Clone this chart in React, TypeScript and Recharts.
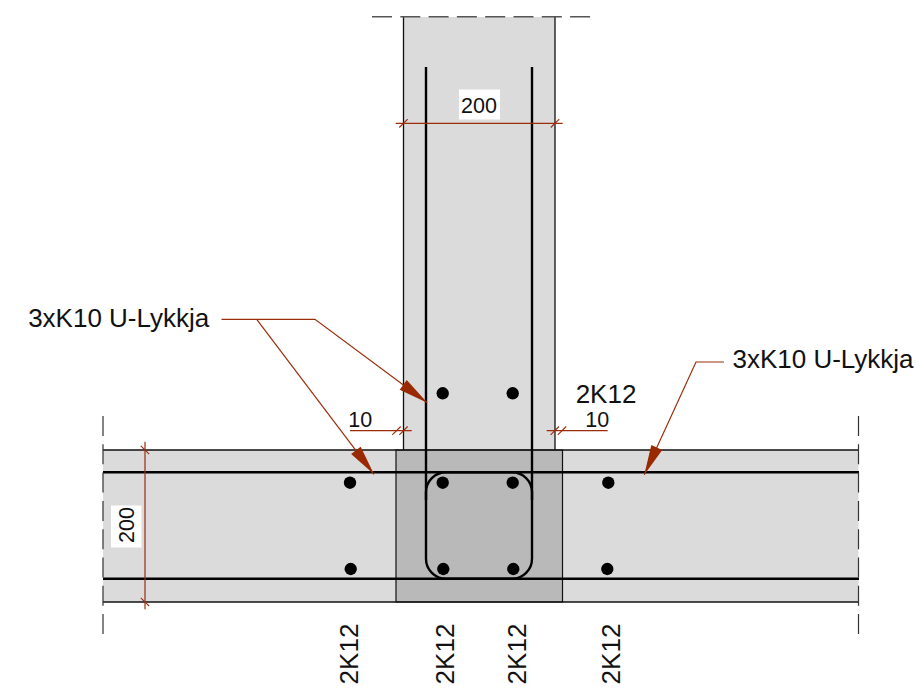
import React from 'react';
import {
  ComposedChart,
  XAxis,
  YAxis,
  ZAxis,
  Line,
  Scatter,
  ReferenceArea,
} from 'recharts';

type Pt = { x: number; y: number };

const lightAreas = [
  { x1: 403.5, x2: 555, y1: 17, y2: 450 },
  { x1: 103, x2: 858.5, y1: 450, y2: 602 },
];
const jointArea = { x1: 396, x2: 562.5, y1: 450, y2: 602 };
const stirrup = { x1: 426, x2: 532, y1: 472.3, y2: 578.7 };
const labelBoxes = [
  { x1: 459, x2: 500, y1: 89.5, y2: 119.5 },
  { x1: 111, x2: 141.5, y1: 505.5, y2: 547.5 },
];

const outlines: Pt[][] = [
  [{ x: 403.5, y: 17 }, { x: 403.5, y: 450 }],
  [{ x: 555, y: 17 }, { x: 555, y: 450 }],
  [{ x: 103, y: 450 }, { x: 858.5, y: 450 }],
  [{ x: 103, y: 602 }, { x: 858.5, y: 602 }],
];
const rebars: Pt[][] = [
  [{ x: 426, y: 67 }, { x: 426, y: 500 }],
  [{ x: 532, y: 67 }, { x: 532, y: 500 }],
  [{ x: 103, y: 472.3 }, { x: 859, y: 472.3 }],
  [{ x: 103, y: 578.7 }, { x: 859, y: 578.7 }],
];
const breakLines: Pt[][] = [
  [{ x: 103, y: 416 }, { x: 103, y: 634 }],
  [{ x: 858.5, y: 416 }, { x: 858.5, y: 634 }],
];
const topBreak: Pt[] = [{ x: 372, y: 16.7 }, { x: 591, y: 16.7 }];

const leaders: Pt[][] = [
  [{ x: 221.5, y: 319.3 }, { x: 315, y: 319.3 }, { x: 427.3, y: 402.7 }],
  [{ x: 256.7, y: 319.3 }, { x: 374, y: 474.3 }],
  [{ x: 724, y: 362 }, { x: 696, y: 362 }, { x: 644.3, y: 474.7 }],
  // dimension lines
  [{ x: 395.7, y: 123.3 }, { x: 562.7, y: 123.3 }],
  [{ x: 145, y: 441.7 }, { x: 145, y: 609.3 }],
  [{ x: 350, y: 430.7 }, { x: 411.7, y: 430.7 }],
  [{ x: 546.7, y: 430.7 }, { x: 607.7, y: 430.7 }],
];
const slashTicks: Pt[] = [
  { x: 403.5, y: 123.3 },
  { x: 555, y: 123.3 },
  { x: 396.5, y: 430.7 },
  { x: 403.5, y: 430.7 },
  { x: 554.8, y: 430.7 },
  { x: 562, y: 430.7 },
];
const backslashTicks: Pt[] = [
  { x: 145, y: 450 },
  { x: 145, y: 602 },
];
const arrowHeads = [
  { x: 427.3, y: 402.7, fromX: 315, fromY: 319.3 },
  { x: 374, y: 474.3, fromX: 256.7, fromY: 319.3 },
  { x: 644.3, y: 474.7, fromX: 696, fromY: 362 },
];

const barDots: Pt[] = [
  { x: 442.7, y: 393.3 },
  { x: 512.7, y: 393.3 },
  { x: 350, y: 482.7 },
  { x: 442.7, y: 482.7 },
  { x: 512.7, y: 482.7 },
  { x: 608.3, y: 482.7 },
  { x: 350.7, y: 569 },
  { x: 443.3, y: 569 },
  { x: 513.3, y: 569 },
  { x: 607.3, y: 569 },
];

const calloutLabels = [
  { x: 118.7, y: 327.3, text: '3xK10 U-Lykkja' },
  { x: 823, y: 368.3, text: '3xK10 U-Lykkja' },
  { x: 606, y: 402.7, text: '2K12' },
];
const sideLabels = [
  { x: 358, y: 654, text: '2K12' },
  { x: 454.3, y: 654, text: '2K12' },
  { x: 526, y: 654, text: '2K12' },
  { x: 620, y: 654, text: '2K12' },
];
const dimLabels = [
  { x: 479, y: 112.7, text: '200' },
  { x: 360.3, y: 427.3, text: '10' },
  { x: 597.3, y: 427.3, text: '10' },
];
const dimSideLabels = [{ x: 134, y: 525, text: '200' }];

const RED = '#9c2d0a';
const TICK = 4.2;

const textShape = (size: number, rotate = 0) => (props: any) => {
  const { cx, cy, payload } = props;
  return (
    <text
      x={cx}
      y={cy}
      fontSize={size}
      fill="#111"
      textAnchor="middle"
      fontFamily="'Liberation Sans', Arial, sans-serif"
      transform={rotate ? `rotate(${rotate} ${cx} ${cy})` : undefined}
    >
      {payload.text}
    </text>
  );
};

const ArrowHead = (props: any) => {
  const { cx, cy, payload } = props;
  const dx = payload.fromX - payload.x;
  const dy = payload.fromY - payload.y;
  const len = Math.hypot(dx, dy);
  const ux = dx / len;
  const uy = dy / len;
  const bx = cx + ux * 30;
  const by = cy + uy * 30;
  const pts = [
    [cx, cy],
    [bx - uy * 6, by + ux * 6],
    [bx + uy * 6, by - ux * 6],
  ];
  return <polygon points={pts.map((p) => p.join(',')).join(' ')} fill="#992a00" />;
};

const seg = (pts: Pt[], color: string, width: number, key: string, dash?: string) => (
  <Line
    key={key}
    data={pts}
    dataKey="y"
    type="linear"
    stroke={color}
    strokeWidth={width}
    strokeDasharray={dash}
    dot={false}
    activeDot={false}
    legendType="none"
    isAnimationActive={false}
  />
);

export default function App() {
  return (
    <div style={{ position: 'absolute', left: 0, top: 0, width: 924, height: 696, background: '#fff' }}>
      <ComposedChart width={924} height={696} margin={{ top: 0, right: 0, bottom: 0, left: 0 }}>
        <XAxis type="number" dataKey="x" domain={[0, 924]} hide />
        <YAxis type="number" dataKey="y" domain={[0, 696]} reversed hide />
        <ZAxis range={[120, 120]} />

        {lightAreas.map((a, i) => (
          <ReferenceArea key={`light-${i}`} {...a} fill="#dbdbdb" fillOpacity={1} stroke="none" />
        ))}
        <ReferenceArea {...jointArea} fill="#b9b9b9" fillOpacity={1} stroke="#111" strokeWidth={1.2} />
        <ReferenceArea {...stirrup} fill="#b9b9b9" fillOpacity={1} stroke="#000" strokeWidth={2.4} radius={20} />
        {labelBoxes.map((a, i) => (
          <ReferenceArea key={`box-${i}`} {...a} fill="#fff" fillOpacity={1} stroke="none" />
        ))}

        {outlines.map((p, i) => seg(p, '#111', 1.3, `outline-${i}`))}
        {rebars.map((p, i) => seg(p, '#000', 2.4, `rebar-${i}`))}
        {breakLines.map((p, i) => seg(p, '#333', 1.2, `break-${i}`, '20 8.3'))}
        {seg(topBreak, '#555', 1.6, 'top-break', '20 8.3')}
        {leaders.map((p, i) => seg(p, RED, 1.2, `leader-${i}`))}
        {slashTicks.map((t, i) =>
          seg([{ x: t.x - TICK, y: t.y + TICK }, { x: t.x + TICK, y: t.y - TICK }], RED, 1.1, `slash-${i}`),
        )}
        {backslashTicks.map((t, i) =>
          seg([{ x: t.x - TICK, y: t.y - TICK }, { x: t.x + TICK, y: t.y + TICK }], RED, 1.1, `back-${i}`),
        )}

        <Scatter data={arrowHeads} shape={ArrowHead} isAnimationActive={false} />
        <Scatter data={barDots} fill="#000" isAnimationActive={false} />
        <Scatter data={calloutLabels} shape={textShape(26)} isAnimationActive={false} />
        <Scatter data={sideLabels} shape={textShape(26, -90)} isAnimationActive={false} />
        <Scatter data={dimLabels} shape={textShape(21.5)} isAnimationActive={false} />
        <Scatter data={dimSideLabels} shape={textShape(21.5, -90)} isAnimationActive={false} />
      </ComposedChart>
    </div>
  );
}
